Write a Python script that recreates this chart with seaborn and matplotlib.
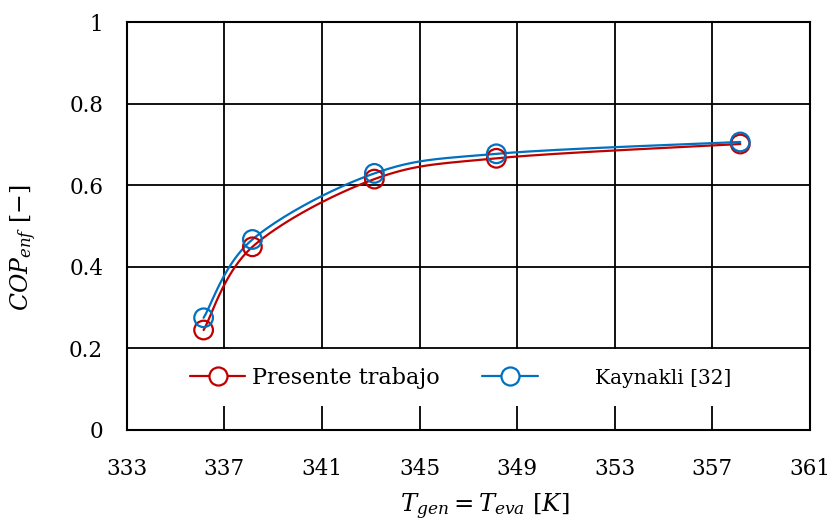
import numpy as np
import pandas as pd
import matplotlib
matplotlib.use("Agg")
import matplotlib.pyplot as plt
from matplotlib.lines import Line2D
from matplotlib.patches import Rectangle
import seaborn as sns

# ---- data ----
t_gen = [336.15, 338.15, 343.15, 348.15, 358.15]
cop_presente = [0.245, 0.449, 0.615, 0.666, 0.701]
cop_kaynakli = [0.275, 0.467, 0.629, 0.677, 0.706]
series_names = ["Presente trabajo", "Kaynakli [32]"]
x_ticks = [333, 337, 341, 345, 349, 353, 357, 361]
y_ticks = [0, 0.2, 0.4, 0.6, 0.8, 1]
y_tick_labels = ["0", "0.2", "0.4", "0.6", "0.8", "1"]

RED = "#C00000"
BLUE = "#0070C0"


def smooth(xs, ys, n=40):
    """Excel-like smoothed line (cubic Bezier through points)."""
    P = np.column_stack([xs, ys]).astype(float)
    m = len(P)
    out = []
    for i in range(m - 1):
        p0 = P[i - 1] if i > 0 else P[i]
        p1 = P[i]
        p2 = P[i + 1]
        p3 = P[i + 2] if i + 2 < m else P[i + 1]
        c1 = p1 + (p2 - p0) / 6.0
        c2 = p2 - (p3 - p1) / 6.0
        t = np.linspace(0, 1, n, endpoint=(i == m - 2))[:, None]
        b = ((1 - t) ** 3) * p1 + 3 * ((1 - t) ** 2) * t * c1 + 3 * (1 - t) * t ** 2 * c2 + t ** 3 * p2
        out.append(b)
    out = np.vstack(out)
    return out[:, 0], out[:, 1]


sns.set_theme(style="white")
plt.rcParams["font.family"] = ["DejaVu Serif"]
plt.rcParams["mathtext.fontset"] = "dejavuserif"

fig = plt.figure(figsize=(8.34, 5.25), dpi=100)
ax = fig.add_axes([0.152, 0.181, 0.819, 0.777])

for ys, col in [(cop_presente, RED), (cop_kaynakli, BLUE)]:
    sx, sy = smooth(t_gen, ys)
    df_line = pd.DataFrame({"x": sx, "y": sy})
    sns.lineplot(data=df_line, x="x", y="y", ax=ax, color=col, lw=1.6,
                 sort=False, estimator=None, zorder=3)
    df_pts = pd.DataFrame({"x": t_gen, "y": ys})
    sns.scatterplot(data=df_pts, x="x", y="y", ax=ax, s=180, marker="o",
                    facecolor="none", edgecolor=col, linewidth=1.6, zorder=4)

ax.set_xlim(333, 361)
ax.set_ylim(0, 1)
ax.set_xticks(x_ticks)
ax.set_yticks(y_ticks)
ax.set_yticklabels(y_tick_labels)
ax.tick_params(axis="both", length=0, labelsize=15.5, colors="black")
ax.tick_params(axis="x", pad=20)
ax.tick_params(axis="y", pad=17)
ax.grid(True, color="black", lw=1.3)
ax.set_axisbelow(True)
for s in ax.spines.values():
    s.set_color("black")
    s.set_linewidth(1.5)

ax.set_xlabel(r"$T_{gen} = T_{eva}\ [K]$", fontsize=17.5, color="black")
ax.set_ylabel(r"$COP_{enf}\ [-]$", fontsize=17, color="black")
ax.xaxis.set_label_coords(0.524, -0.15)
ax.yaxis.set_label_coords(-0.128, 0.446)

# white legend band across the plot area
ax.add_patch(Rectangle((0, 0.059), 1, 0.14, transform=ax.transAxes,
                       facecolor="white", edgecolor="none", zorder=2))

handles = [
    Line2D([], [], color=RED, lw=1.6, marker="o", ms=13, mfc="white",
           mec=RED, mew=1.6),
    Line2D([], [], color=BLUE, lw=1.6, marker="o", ms=13, mfc="white",
           mec=BLUE, mew=1.6),
]
labels = [series_names[0], "        " + series_names[1]]
leg = ax.legend(handles, labels, ncol=2, loc="center",
                bbox_to_anchor=(0.489, 0.127), frameon=False,
                handlelength=2.5, handletextpad=0.3, columnspacing=1.9,
                fontsize=16)
leg.set_zorder(10)
for t in leg.get_texts():
    t.set_color("black")
leg.get_texts()[1].set_fontsize(14.5)

fig.savefig("out.png", dpi=100, facecolor="white")
